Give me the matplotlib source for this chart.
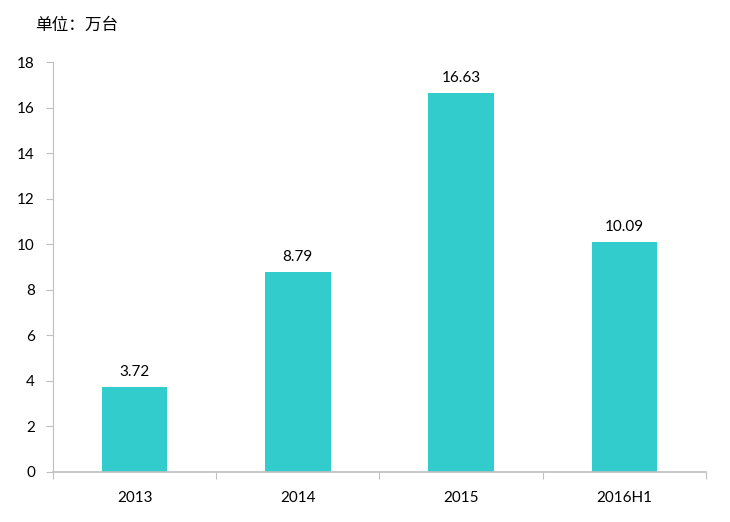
import matplotlib
matplotlib.use("Agg")
import matplotlib.pyplot as plt
import numpy as np

# 数据
categories = ["2013", "2014", "2015", "2016H1"]
values = [3.72, 8.79, 16.63, 10.09]
y_ticks = [0, 2, 4, 6, 8, 10, 12, 14, 16, 18]
unit_label = "单位：万台"

plt.rcParams['font.family'] = ['Lato', 'Noto Sans CJK SC', 'DejaVu Sans']

bar_color = "#33CCCC"
axis_color = "#BFBFBF"

fig = plt.figure(figsize=(7.3, 5.22), dpi=100)
ax = fig.add_axes([0.0726, 0.0958, 0.8945, 0.7852])

x = np.arange(len(categories))
bars = ax.bar(x, values, width=0.4, color=bar_color, zorder=2)

for xi, v in zip(x, values):
    ax.text(xi, v + 0.35, f"{v:.2f}", ha="center", va="bottom",
            fontsize=11, color="#000000")

ax.set_xlim(-0.5, len(categories) - 0.5)
ax.set_ylim(0, 18)
ax.set_yticks(y_ticks)
ax.set_yticklabels([str(t) for t in y_ticks], fontsize=11)

# 分类刻度线在边界处，标签在中间
ax.set_xticks(np.arange(-0.5, len(categories), 1.0))
ax.set_xticklabels([])
ax.set_xticks(x, minor=True)
ax.set_xticklabels(categories, minor=True, fontsize=11)
ax.tick_params(axis="x", which="major", length=5, color=axis_color, direction="out")
ax.tick_params(axis="x", which="minor", length=0, pad=14)
ax.tick_params(axis="y", length=5, color=axis_color, direction="out", pad=8)

for side in ["top", "right"]:
    ax.spines[side].set_visible(False)
ax.spines["left"].set_color(axis_color)
ax.spines["bottom"].set_color(axis_color)
ax.spines["bottom"].set_linewidth(1.2)

fig.text(35 / 730, 1 - 25 / 522, unit_label, fontsize=12, ha="left", va="center")

fig.savefig("out.png", dpi=100)
